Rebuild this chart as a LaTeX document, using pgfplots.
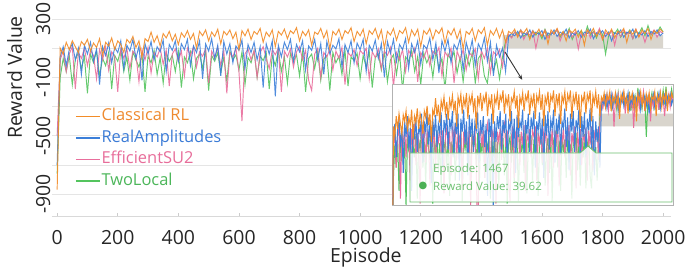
\documentclass[border=0pt]{standalone}
\usepackage{fontspec}
\setmainfont{Open Sans}
\newfontfamily\dejavu{DejaVu Sans}
\usepackage{pgfplots}
\pgfplotsset{compat=1.18}
\usepackage{pgfplotstable}
\usetikzlibrary{arrows.meta}
\definecolor{cO}{HTML}{F28C28}
\definecolor{cB}{HTML}{3C7FD9}
\definecolor{cP}{HTML}{E96E9C}
\definecolor{cG}{HTML}{54C45E}
\definecolor{tO}{HTML}{EE8A2F}
\definecolor{tB}{HTML}{3B7BD6}
\definecolor{tP}{HTML}{E76D9A}
\definecolor{tG}{HTML}{4CB65A}
\definecolor{band}{HTML}{D9D5CD}
\definecolor{tip}{HTML}{6CC070}

\pgfplotstableread{
ep cl ra es tl
0 -870 -700 -500 -760
10 100 40 20 -100
20 60 110 80 30
30 140 -20 -60 -60
40 90 90 60 50
50 150 130 110 -150
60 110 20 -180 20
70 70 100 70 70
80 145 -80 30 -40
90 120 120 100 40
100 160 60 -20 -210
110 80 140 85 60
120 135 10 50 0
130 105 95 -110 80
140 165 -150 90 -90
150 50 110 20 30
160 140 50 110 -20
170 115 135 -50 70
180 170 0 75 -180
190 90 105 40 50
200 150 70 -200 10
210 125 150 95 90
220 70 -40 30 -60
230 160 120 100 40
240 135 80 -40 -120
250 180 160 80 75
260 105 30 55 20
270 150 115 -130 -30
280 40 -120 90 60
290 165 130 20 -200
300 145 60 105 45
310 210 145 -70 0
320 140 20 70 85
330 185 110 40 -80
340 115 75 100 35
350 200 155 -10 -140
360 170 -60 85 70
370 215 125 -160 10
380 150 85 60 50
390 195 150 95 -60
400 125 10 10 80
410 205 130 80 -170
420 175 90 -90 40
430 220 160 100 0
440 160 -20 50 75
450 200 115 110 -110
460 100 70 -30 30
470 215 150 75 60
480 185 -110 45 -40
490 225 130 95 85
500 150 80 -140 -190
510 210 165 80 50
520 180 30 30 10
530 230 120 105 70
540 130 -90 -20 -70
550 215 145 85 40
560 190 60 -210 -130
570 225 130 70 80
580 165 0 40 20
590 210 115 100 55
600 90 85 -60 -50
610 220 155 -400 75
620 185 -40 60 -150
630 230 125 95 35
640 160 70 20 0
650 215 140 85 80
660 195 20 -100 -100
670 235 110 70 45
680 140 -170 110 15
690 210 130 30 70
700 180 60 -40 -180
710 225 150 90 50
720 110 -230 55 -20
730 215 120 100 85
740 190 40 -200 -60
750 230 140 80 40
760 165 90 40 -140
770 220 160 95 65
780 200 10 -30 10
790 240 125 75 55
800 150 75 110 -90
810 215 150 20 75
820 185 -50 85 -200
830 225 115 -120 30
840 120 85 -190 60
850 210 160 60 -40
860 195 20 100 80
870 235 130 -100 -120
880 170 -80 70 25
890 220 145 40 50
900 95 60 95 -190
910 215 120 -50 70
920 190 95 80 0
930 230 165 30 45
940 160 -30 105 -80
950 220 125 -150 85
960 200 70 70 -160
970 240 150 45 40
980 145 0 90 15
990 215 135 -20 65
1000 185 90 85 -110
1010 230 160 60 50
1020 130 -60 100 -30
1030 220 120 -110 80
1040 195 80 75 -170
1050 235 155 35 35
1060 165 30 95 60
1070 225 130 -40 -50
1080 100 -100 80 75
1090 215 145 50 -130
1100 190 65 105 20
1110 235 160 -170 55
1120 155 10 70 -80
1130 220 125 20 70
1140 200 90 90 -190
1150 240 165 -60 40
1160 140 -40 85 10
1170 225 130 45 85
1180 185 70 100 -60
1190 230 150 -130 45
1200 110 -10 70 -150
1210 220 120 30 65
1220 195 95 95 0
1230 235 170 -20 50
1240 160 20 80 -100
1250 225 135 55 80
1260 200 -70 105 -40
1270 240 150 -90 30
1280 130 80 75 -180
1290 220 160 40 60
1300 190 0 100 20
1310 235 125 -140 75
1320 165 90 80 -70
1330 225 165 20 40
1340 95 -50 90 -130
1350 215 140 -50 55
1360 195 60 70 -20
1370 235 155 45 70
1380 150 -20 95 -140
1390 225 130 -110 30
1400 200 85 85 60
1410 240 170 30 -90
1420 120 10 100 -140
1430 220 140 -70 45
1440 190 -90 75 -60
1450 235 120 50 20
1460 170 40 90 -110
1470 225 100 -30 40
1480 140 -60 120 150
1490 215 180 195 190
1500 200 200 170 175
1510 230 185 210 210
1520 175 215 185 195
1530 220 170 225 225
1540 205 205 160 180
1550 235 190 205 205
1560 160 225 190 170
1570 215 175 220 220
1580 195 210 100 190
1590 230 195 200 210
1600 180 220 185 165
1610 220 160 225 230
1620 130 205 170 185
1630 225 190 210 205
1640 200 225 195 195
1650 235 180 230 225
1660 185 210 150 175
1670 215 195 205 210
1680 150 230 190 190
1690 225 170 220 235
1700 205 205 175 160
1710 230 190 210 205
1720 175 220 95 195
1730 220 175 200 220
1740 120 210 185 180
1750 225 200 225 250
1760 200 230 170 190
1770 235 165 210 215
1780 180 205 195 170
1790 220 195 235 225
1800 160 220 160 195
1810 225 180 205 60
1820 195 210 190 185
1830 230 150 220 220
1840 170 205 120 200
1850 215 195 210 230
1860 205 225 180 175
1870 235 175 225 210
1880 140 210 195 195
1890 220 200 215 225
1900 195 230 165 165
1910 230 170 230 215
1920 175 205 185 200
1930 225 190 210 240
1940 200 220 140 185
1950 235 180 205 255
1960 160 215 195 190
1970 220 195 225 220
1980 200 225 175 205
1990 230 185 215 245
2000 210 205 200 210
}\datatab

\begin{document}
\begin{tikzpicture}
\useasboundingbox (0,0) rectangle (685bp,269bp);
\begin{axis}[
  at={(52bp,53bp)}, anchor=south west,
  scale only axis, width=618.7bp, height=201.4bp,
  xmin=-17, xmax=2025, ymin=-1050, ymax=330,
  xtick={0,200,...,2000},
  ytick={-900,-500,-100,300},
  minor ytick={-700,-300,100},
  ymajorgrids, yminorgrids,
  grid style={draw=black!10, line width=0.6bp},
  minor grid style={draw=black!10, line width=0.6bp},
  /pgf/number format/assume math mode=true,
  /pgf/number format/1000 sep={},
  axis x line*=bottom, axis y line*=left,
  x axis line style={draw=black!15, line width=0.7bp, -},
  y axis line style={draw=none},
  y tick style={draw=none},
  minor y tick style={draw=none},
  x tick style={draw=black!20, line width=0.6bp},
  major tick length=3bp,
  ticklabel style={font=\fontsize{19.5}{22}\selectfont, text=black!85},
  xticklabel style={inner sep=0pt, anchor=north, yshift=-14bp},
  yticklabel style={rotate=90, anchor=south, inner sep=1.5bp},
  xlabel={Episode}, ylabel={Reward Value},
  every axis x label/.style={at={(rel axis cs:0.5,0)}, anchor=base, yshift=-46bp, xshift=4.5bp,
    font=\fontsize{19.5}{22}\selectfont, text=black!85},
  every axis y label/.style={at={(rel axis cs:-0.0606,0.688)}, anchor=center, rotate=90,
    font=\fontsize{19.5}{22}\selectfont, text=black!85},
  legend style={at={(rel axis cs:0.0372,0.538)}, anchor=north west, draw=none, fill=none,
    inner sep=0pt, font=\fontsize{16.5}{18}\selectfont,
    nodes={inner sep=1bp, text height=12bp, text depth=3.5bp}, row sep=4bp},
  legend cell align=left, reverse legend,
  legend image code/.code={\draw[#1, line width=1.3bp, opacity=1] (0bp,0bp) -- (24bp,0bp);},
]
\addplot[fill=band, draw=none, forget plot] coordinates {(1470,100) (1470,190) (2000,190) (2000,100) (1470,100)};
\addplot[cG, line width=0.95bp, opacity=0.9] table[x=ep, y=tl] {\datatab};
\addlegendentry{\textcolor{tG}{TwoLocal}}
\addplot[cP, line width=0.95bp, opacity=0.9] table[x=ep, y=es] {\datatab};
\addlegendentry{\textcolor{tP}{EfficientSU2}}
\addplot[cB, line width=0.95bp, opacity=0.9] table[x=ep, y=ra] {\datatab};
\addlegendentry{\textcolor{tB}{RealAmplitudes}}
\addplot[cO, line width=0.95bp, opacity=0.9] table[x=ep, y=cl] {\datatab};
\addlegendentry{\textcolor{tO}{Classical RL}}
\draw[-{Stealth[length=5bp,width=4bp]}, line width=0.9bp, black!80] (axis cs:1478,74) -- (axis cs:1535,-117);
\end{axis}

\begin{axis}[
  at={(392bp,64bp)}, anchor=south west,
  scale only axis, width=281bp, height=121bp,
  xmin=0, xmax=2000, ymin=-205, ymax=265,
  xtick=\empty, ytick=\empty,
  axis line style={draw=black!30, line width=0.8bp},
  axis background/.style={fill=white},
]
\addplot[fill=band, draw=none] coordinates {(1470,100) (1470,150) (2000,150) (2000,100) (1470,100)};
\addplot[cG, line width=1bp] table[x=ep, y=tl] {\datatab};
\addplot[cP, line width=1bp] table[x=ep, y=es] {\datatab};
\addplot[cB, line width=1bp] table[x=ep, y=ra] {\datatab};
\addplot[cO, line width=1bp] table[x=ep, y=cl] {\datatab};
\end{axis}

\path[draw=tip, line width=0.9bp, fill=white, fill opacity=0.85]
  (410bp,116bp) -- (580bp,116bp) -- (588bp,123bp) -- (596bp,116bp) -- (672bp,116bp)
  -- (672bp,67bp) -- (410bp,67bp) -- cycle;
\node[anchor=west, inner sep=0pt, text=tip, font=\fontsize{11.5}{13}\selectfont] at (433bp,99bp) {Episode: 1467};
\node[anchor=west, inner sep=0pt, text=tip, font=\fontsize{11.5}{13}\selectfont] at (433bp,83bp) {Reward Value: 39.62};
\node[anchor=center, inner sep=0pt, text=cG!90!black, font=\dejavu\fontsize{10}{11}\selectfont] at (423bp,83bp) {●};
\end{tikzpicture}
\end{document}
